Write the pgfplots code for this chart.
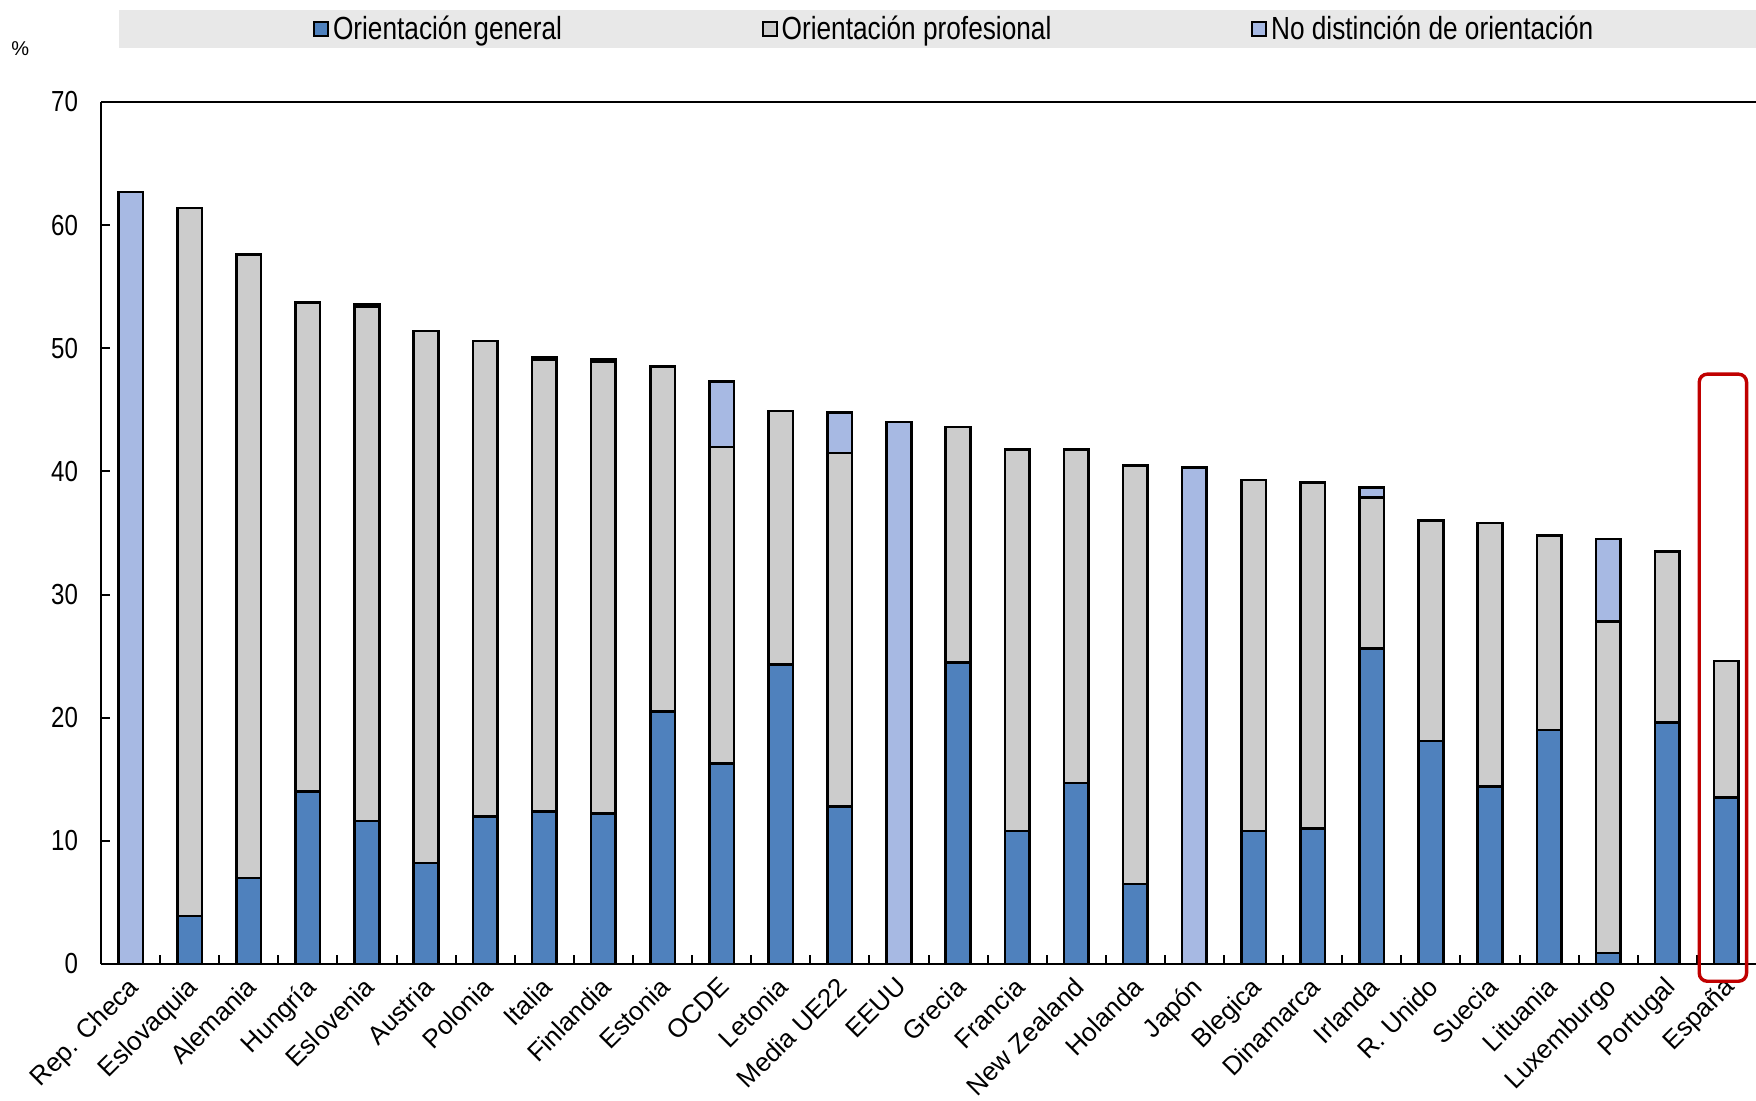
\documentclass[border=0pt]{standalone}
\usepackage{pgfplots}
\pgfplotsset{compat=1.18}
\usepackage{pgfplotstable}
\usepackage{fontspec}
\setmainfont{Liberation Sans}
\newfontfamily\legfont[FakeStretch=0.82]{Liberation Sans}
\newfontfamily\tickfont[FakeStretch=0.83]{Liberation Sans}
\definecolor{cgen}{HTML}{4F81BD}
\definecolor{cprof}{HTML}{CCCCCC}
\definecolor{cnd}{HTML}{A7B9E3}
\definecolor{cband}{HTML}{E8E8E8}
\definecolor{cred}{HTML}{C00000}
\pgfplotstableread{
x gen prof nd
0 0 0 62.7
1 3.9 57.5 0
2 7.0 50.6 0
3 14.0 39.7 0
4 11.6 41.8 0.2
5 8.2 43.2 0
6 12.0 38.6 0
7 12.4 36.7 0.2
8 12.2 36.7 0.2
9 20.5 28.0 0
10 16.3 25.7 5.3
11 24.3 20.6 0
12 12.8 28.7 3.3
13 0 0 44.0
14 24.5 19.1 0
15 10.8 31.0 0
16 14.7 27.1 0
17 6.5 34.0 0
18 0 0 40.3
19 10.8 28.5 0
20 11.0 28.1 0
21 25.6 12.3 0.8
22 18.1 17.9 0
23 14.4 21.4 0
24 19.0 15.8 0
25 0.9 26.9 6.7
26 19.6 13.9 0
27 13.5 11.1 0
}\datatable
\begin{document}
\begin{tikzpicture}
\useasboundingbox (0,0) rectangle (878pt,550pt);
\fill[cband] (59.5pt,526pt) rectangle (878pt,545pt);
\node[anchor=base west,font=\fontsize{10}{11}\selectfont,inner sep=0pt] at (5.5pt,522pt) {\%};
\begin{axis}[
  at={(50.5pt,68pt)}, anchor=south west,
  scale only axis, width=827.5pt, height=431pt,
  xmin=-0.5, xmax=27.5, ymin=0, ymax=70,
  ybar stacked, bar width=12.3pt,
  axis x line=box, axis y line=left,
  axis line style={line width=1pt, -},
  clip=false,
  ytick={0,10,...,70},
  xtick={0,...,27},
  xticklabels={Rep. Checa,Eslovaquia,Alemania,Hungría,Eslovenia,Austria,Polonia,Italia,Finlandia,Estonia,OCDE,Letonia,Media UE22,EEUU,Grecia,Francia,New Zealand,Holanda,Japón,Blegica,Dinamarca,Irlanda,R. Unido,Suecia,Lituania,Luxemburgo,Portugal,España},
  minor xtick={0.5,1.5,...,26.5},
  major x tick style={draw=none},
  minor tick length=4.5pt, major tick length=4.5pt,
  tick style={line width=1pt, black},
  tick align=inside, xtick pos=bottom, ytick pos=left,
  /pgf/number format/assume math mode=true,
  yticklabel style={font=\tickfont\fontsize{14.5}{16}\selectfont, xshift=-8pt},
  xticklabel style={font=\fontsize{13}{15}\selectfont, rotate=45, anchor=north east, inner sep=1pt, xshift=-4.3pt, yshift=-1.4pt},
  legend columns=3,
  legend style={at={(0.1281,1.0847)}, anchor=west, draw=none, fill=none, inner sep=0pt,
    font=\legfont\fontsize{16}{18}\selectfont,
    /tikz/every even column/.append style={column sep=98pt}},
  legend image code/.code={\draw[#1,line width=0.8pt] (0pt,-3.5pt) rectangle (7pt,3.5pt);},
]
\addplot[fill=cgen, draw=black, line width=1.3pt] table[x=x,y=gen]{\datatable};
\addplot[fill=cprof, draw=black, line width=1.3pt] table[x=x,y=prof]{\datatable};
\addplot[fill=cnd, draw=black, line width=1.3pt] table[x=x,y=nd]{\datatable};
\legend{Orientación general,Orientación profesional,No distinción de orientación}
\draw[cred, line width=1.7pt, rounded corners=4pt] (axis cs:26.54,-1.4) rectangle (axis cs:27.34,47.9);
\end{axis}
\end{tikzpicture}
\end{document}
